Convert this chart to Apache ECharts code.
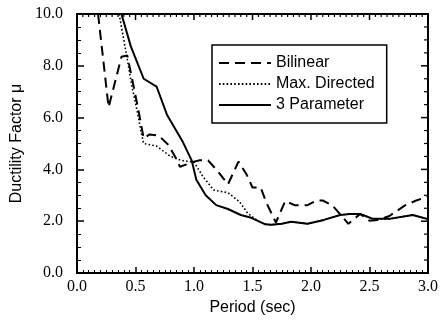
<!DOCTYPE html>
<html>
<head>
<meta charset="utf-8">
<script src="https://cdn.jsdelivr.net/npm/echarts@6/dist/echarts.min.js"></script>
<style>
  html, body { margin: 0; padding: 0; background: #fff; }
  #chart { width: 441px; height: 321px; }
</style>
</head>
<body>
<div id="chart"></div>
<script>
// Ductility factor vs. period for three hysteresis models
const seriesNames = ['Bilinear', 'Max. Directed', '3 Parameter'];

const periodBilinear = [0.18, 0.27, 0.38, 0.43, 0.52, 0.57, 0.62, 0.70, 0.78, 0.85, 0.88, 1.00, 1.05, 1.12, 1.20, 1.29, 1.38, 1.45, 1.50, 1.57, 1.62, 1.70, 1.78, 1.86, 1.97, 2.05, 2.10, 2.18, 2.32, 2.42, 2.50, 2.58, 2.67, 2.80, 2.90, 3.00];
const muBilinear     = [10.0, 6.4, 8.35, 8.4, 6.4, 5.2, 5.35, 5.3, 4.95, 4.4, 4.1, 4.3, 4.35, 4.35, 3.95, 3.42, 4.3, 3.8, 3.3, 3.3, 2.7, 1.95, 2.78, 2.62, 2.62, 2.8, 2.8, 2.62, 1.9, 2.28, 2.02, 2.05, 2.2, 2.6, 2.8, 2.95];

const periodMaxDir = [0.36, 0.42, 0.47, 0.51, 0.55, 0.57, 0.68, 0.80, 0.89, 1.00, 1.08, 1.17, 1.29, 1.39, 1.46, 1.55, 1.61, 1.66, 1.75, 1.83, 1.97, 2.11, 2.25, 2.33, 2.42, 2.53, 2.67, 2.87, 3.00];
const muMaxDir     = [10.0, 8.5, 7.2, 6.35, 5.4, 5.0, 4.9, 4.5, 4.35, 4.28, 3.7, 3.2, 3.1, 2.75, 2.3, 2.0, 1.88, 1.86, 1.9, 1.98, 1.9, 2.05, 2.24, 2.28, 2.28, 2.09, 2.09, 2.24, 2.08];

const period3Par = [0.38, 0.46, 0.57, 0.68, 0.77, 0.90, 0.98, 1.02, 1.10, 1.19, 1.29, 1.40, 1.49, 1.55, 1.61, 1.66, 1.75, 1.83, 1.97, 2.11, 2.25, 2.33, 2.42, 2.53, 2.67, 2.87, 3.00];
const mu3Par     = [10.0, 8.75, 7.5, 7.2, 6.1, 5.1, 4.35, 3.6, 3.0, 2.62, 2.47, 2.24, 2.13, 2.0, 1.88, 1.86, 1.9, 1.98, 1.9, 2.05, 2.24, 2.28, 2.28, 2.09, 2.09, 2.24, 2.08];

const xTicks = { min: 0, max: 3, step: 0.5, minorPerMajor: 10 };
const yTicks = { min: 0, max: 10, step: 2, minorPerMajor: 4 };

const pairs = (xs, ys) => xs.map((x, i) => [x, ys[i]]);
const oneDecimal = v => v.toFixed(1);

// tick positions along the top and right frame edges: [x, y, isMajor]
function edgeTicks(t, toPoint) {
  const n = Math.round((t.max - t.min) / t.step) * t.minorPerMajor;
  const out = [];
  for (let i = 0; i <= n; i++) {
    const v = t.min + (i * t.step) / t.minorPerMajor;
    out.push(toPoint(v, i % t.minorPerMajor === 0 ? 1 : 0));
  }
  return out;
}
const topTicks = edgeTicks(xTicks, (v, major) => [v, yTicks.max, major]);
const rightTicks = edgeTicks(yTicks, (v, major) => [xTicks.max, v, major]);

function tickRenderer(dx, dy, majorLen, minorLen) {
  return function (params, api) {
    const p = api.coord([api.value(0), api.value(1)]);
    const major = api.value(2) === 1;
    const len = major ? majorLen : minorLen;
    return {
      type: 'line',
      shape: { x1: p[0], y1: p[1], x2: p[0] + dx * len, y2: p[1] + dy * len },
      style: { stroke: '#000', lineWidth: major ? 1.5 : 1.2 }
    };
  };
}

const chart = echarts.init(document.getElementById('chart'));

chart.setOption({
  animation: false,
  grid: {
    left: 77, top: 14, right: 9, bottom: 44,
    show: true, borderColor: '#000', borderWidth: 2, backgroundColor: 'transparent'
  },
  legend: {
    orient: 'vertical',
    left: 212, top: 45,
    data: seriesNames,
    itemWidth: 52, itemHeight: 14, itemGap: 5,
    padding: [10, 12, 10, 6],
    borderColor: '#000', borderWidth: 1.5,
    itemStyle: { opacity: 0 },
    textStyle: { color: '#000', fontFamily: 'Liberation Sans', fontSize: 16 }
  },
  xAxis: {
    type: 'value', min: xTicks.min, max: xTicks.max, interval: xTicks.step,
    splitLine: { show: false },
    axisLine: { show: true, onZero: false, lineStyle: { color: '#000', width: 2 } },
    axisTick: { show: true, inside: true, length: 6, lineStyle: { color: '#000', width: 1.5 } },
    minorTick: { show: true, splitNumber: xTicks.minorPerMajor, length: 3, lineStyle: { color: '#000' } },
    axisLabel: { color: '#000', fontFamily: 'Liberation Serif', fontSize: 16, margin: 6, formatter: oneDecimal },
    name: 'Period (sec)', nameLocation: 'middle', nameGap: 27,
    nameTextStyle: { color: '#000', fontFamily: 'Liberation Sans', fontSize: 16 }
  },
  yAxis: {
    type: 'value', min: yTicks.min, max: yTicks.max, interval: yTicks.step,
    splitLine: { show: false },
    axisLine: { show: true, onZero: false, lineStyle: { color: '#000', width: 2 } },
    axisTick: { show: true, inside: true, length: 7, lineStyle: { color: '#000', width: 1.5 } },
    minorTick: { show: true, splitNumber: yTicks.minorPerMajor, length: 4, lineStyle: { color: '#000' } },
    axisLabel: { color: '#000', fontFamily: 'Liberation Serif', fontSize: 16, margin: 14, formatter: oneDecimal },
    name: 'Ductility Factor μ', nameLocation: 'middle', nameGap: 51, nameRotate: 90,
    nameTextStyle: { color: '#000', fontFamily: 'Liberation Sans', fontSize: 16 }
  },
  series: [
    {
      name: seriesNames[0], type: 'line', symbol: 'none',
      data: pairs(periodBilinear, muBilinear),
      lineStyle: { color: '#000', width: 2, type: [10, 6] },
      itemStyle: { color: '#000' }
    },
    {
      name: seriesNames[1], type: 'line', symbol: 'none',
      data: pairs(periodMaxDir, muMaxDir),
      lineStyle: { color: '#000', width: 1.6, type: [1.6, 2.2] },
      itemStyle: { color: '#000' }
    },
    {
      name: seriesNames[2], type: 'line', symbol: 'none', z: 3,
      data: pairs(period3Par, mu3Par),
      lineStyle: { color: '#000', width: 2 },
      itemStyle: { color: '#000' }
    },
    {
      // inward ticks on the top frame edge
      type: 'custom', silent: true, clip: false, z: 4,
      data: topTicks,
      renderItem: tickRenderer(0, 1, 6, 3)
    },
    {
      // inward ticks on the right frame edge
      type: 'custom', silent: true, clip: false, z: 4,
      data: rightTicks,
      renderItem: tickRenderer(-1, 0, 7, 4)
    }
  ]
});
</script>
</body>
</html>
